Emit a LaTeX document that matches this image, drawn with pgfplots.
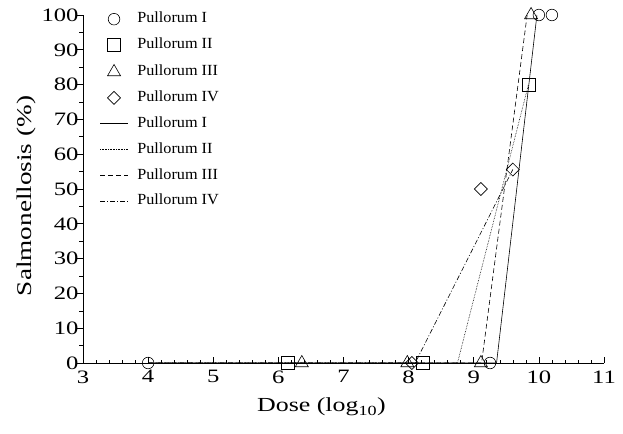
\documentclass[border=0pt]{standalone}
\usepackage{fontspec}
\setmainfont{Liberation Serif}[FakeStretch=1.3]
\newfontfamily\legfont{Liberation Serif}[FakeStretch=1.05]
\usepackage{pgfplots}
\pgfplotsset{compat=1.18}
\begin{document}
\begin{tikzpicture}
\begin{axis}[
  name=ax,
  at={(0,0)}, anchor=south west,
  scale only axis,
  width=521bp, height=348bp,
  xmin=3, xmax=11, ymin=0, ymax=100,
  axis x line=bottom, axis y line=left,
  axis line style={-, line width=0.6bp},
  xtick={3,4,...,11}, ytick={0,10,...,100},
  minor x tick num=4, minor y tick num=1,
  xtick align=inside, ytick align=outside,
  major tick length=6bp, minor tick length=3.5bp,
  tick style={line width=0.6bp, black},
  /pgf/number format/assume math mode=true,
  ticklabel style={font=\fontsize{19}{22}\selectfont},
  xticklabel style={yshift=-4bp},
  yticklabel style={xshift=5bp},
  xlabel={Dose (log\textsubscript{10})},
  ylabel={Salmonellosis (\%)},
  xlabel style={font=\fontsize{20}{24}\selectfont, yshift=-8bp, xshift=-22bp},
  ylabel style={font=\fontsize{21}{24}\selectfont, yshift=-1bp, xshift=-7bp},
  clip=false,
  legend cell align=left,
  legend style={draw=none, fill=none, at={(0.026,1.013)}, anchor=north west,
    font=\legfont\fontsize{15.5}{18}\selectfont, row sep=12.9bp,
    nodes={inner sep=0pt, text height=10bp, text depth=3bp},
    column sep=9bp},
  legend image code/.code={\draw[mark repeat=2,mark phase=2,#1] plot coordinates {(0bp,0bp) (14bp,0bp) (28bp,0bp)};},
  every axis plot/.append style={line width=0.6bp, black},
]
% markers
\addplot[only marks, mark=o, mark size=5.8bp] coordinates {(4,0) (9.25,0) (10.0,100) (10.2,100)};
\addlegendentry{Pullorum I}
\addplot[only marks, mark=square, mark size=6.5bp] coordinates {(6.15,0) (8.22,0) (9.84,80)};
\addlegendentry{Pullorum II}
\addplot[only marks, mark=triangle, mark size=7.5bp] coordinates {(6.36,0) (7.98,0) (9.11,0) (9.88,100)};
\addlegendentry{Pullorum III}
\addplot[only marks, mark=square, mark size=4.6bp, mark options={rotate=45}] coordinates {(8.05,0) (9.11,50) (9.6,55.6)};
\addlegendentry{Pullorum IV}
% lines
\addplot[solid, no marks] coordinates {(4,0) (9.35,0) (9.97,100)};
\addlegendentry{Pullorum I}
\addplot[densely dotted, no marks] coordinates {(4,0) (8.75,0) (9.84,80)};
\addlegendentry{Pullorum II}
\addplot[dash pattern=on 5bp off 3bp, no marks] coordinates {(4,0) (9.12,0) (9.82,100)};
\addlegendentry{Pullorum III}
\addplot[dash pattern=on 5bp off 2bp on 1bp off 2bp, no marks] coordinates {(4,0) (8.1,0) (9.6,55.6)};
\addlegendentry{Pullorum IV}
\end{axis}
\pgfresetboundingbox
\path[use as bounding box] (ax.south west) ++(-83bp,-71bp) rectangle ++(623bp,434bp);
\end{tikzpicture}
\end{document}
